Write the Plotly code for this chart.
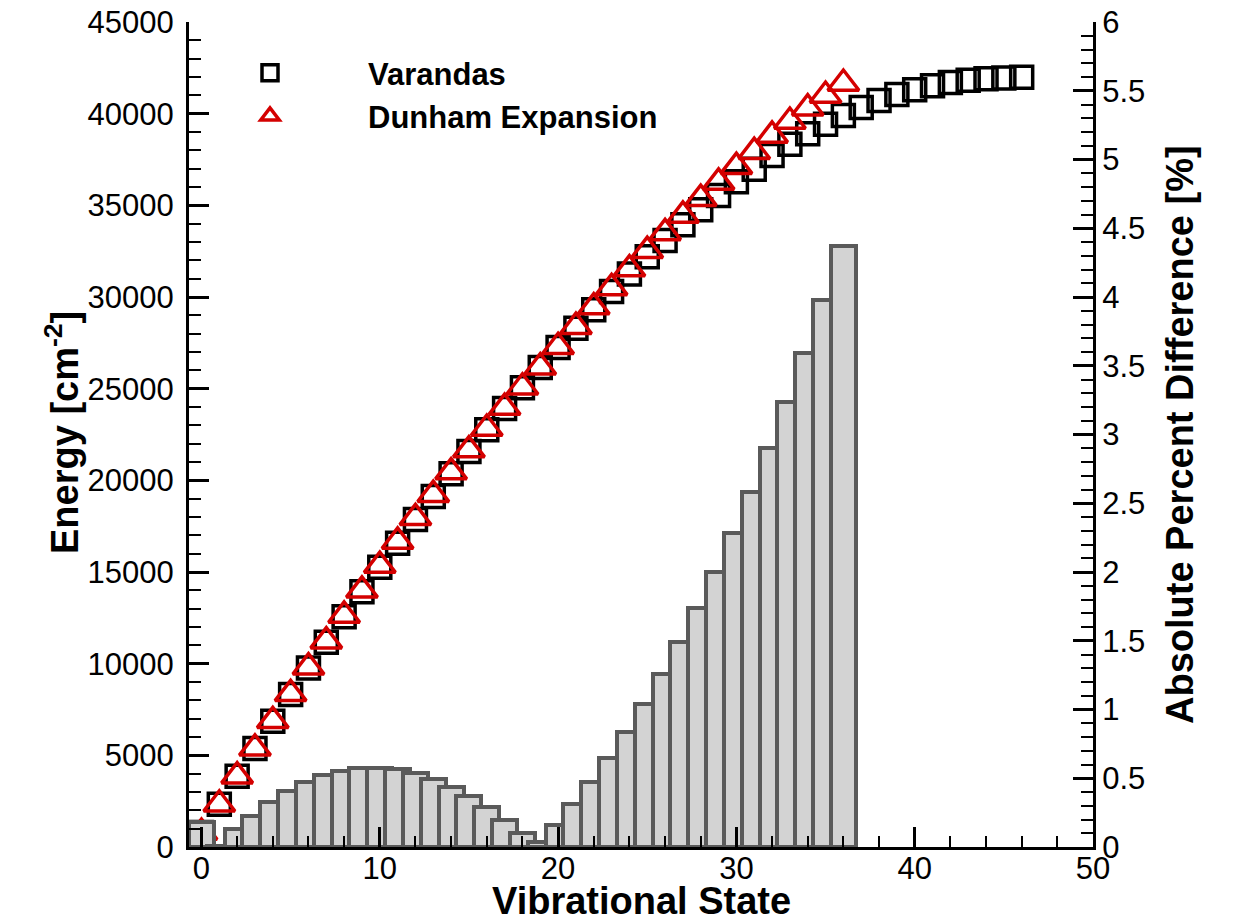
import plotly.graph_objects as go

# ---------------- data ----------------
states_varandas = list(range(47))
energy_varandas = [
    790, 2330, 3860, 5370, 6860, 8320, 9760, 11170, 12560, 13920,
    15260, 16570, 17860, 19120, 20360, 21570, 22760, 23920, 25050, 26160,
    27240, 28290, 29310, 30300, 31260, 32190, 33080, 33940, 34760, 35540,
    36280, 36970, 37720, 38330, 38900, 39420, 39900, 40330, 40720, 41050,
    41300, 41520, 41700, 41820, 41900, 41950, 41990,
]

states_dunham = list(range(37))
energy_dunham = [
    791, 2330, 3865, 5382, 6883, 8354, 9806, 11229, 12629, 14000,
    15348, 16664, 17956, 19214, 20449, 21650, 22827, 23967, 25075, 26170,
    27284, 28378, 29449, 30497, 31521, 32525, 33495, 34447, 35363, 36251,
    37109, 37924, 38814, 39570, 40297, 40989, 41644,
]

percent_difference = [
    0.18, 0.005, 0.128, 0.225, 0.33, 0.41, 0.475, 0.524, 0.553, 0.572,
    0.577, 0.565, 0.536, 0.492, 0.439, 0.371, 0.293, 0.196, 0.10, 0.04,
    0.16, 0.31, 0.475, 0.65, 0.834, 1.04, 1.256, 1.493, 1.736, 2.0,
    2.284, 2.58, 2.90, 3.236, 3.59, 3.98, 4.37,
]

x_title = "Vibrational State"
y_title = "Energy [cm<sup>-2</sup>]"
y2_title = "Absolute Percent Difference [%]"

# ---------------- figure ----------------
FONT = "Liberation Sans, Arial, Helvetica, sans-serif"
W, H = 1233, 924
ML, MR, MT, MB = 189, 140, 22, 77
PW, PH = W - ML - MR, H - MT - MB

fig = go.Figure()

fig.add_trace(go.Scatter(
    x=states_varandas, y=energy_varandas, mode="markers", name="Varandas",
    marker=dict(symbol="square-open", size=22, color="black",
                line=dict(width=3.5, color="black")),
))
fig.add_trace(go.Scatter(
    x=states_dunham, y=energy_dunham, mode="markers", name="Dunham Expansion",
    marker=dict(symbol="triangle-up-open", size=27, color="#d40000",
                line=dict(width=3.5, color="#d40000")),
))
fig.add_trace(go.Bar(
    x=states_dunham, y=percent_difference, yaxis="y2", width=1.4,
    marker=dict(color="#d3d3d3", line=dict(color="#5a5a5a", width=4)),
    showlegend=False, name="Absolute Percent Difference",
))

common_axis = dict(
    ticks="inside", ticklen=20, tickwidth=3, tickcolor="black",
    showline=True, linewidth=3, linecolor="black",
    showgrid=False, zeroline=False,
    tickfont=dict(family=FONT, size=31, color="black"),
)

fig.update_layout(
    width=W, height=H,
    margin=dict(l=ML, r=MR, t=MT, b=MB, autoexpand=False),
    plot_bgcolor="white", paper_bgcolor="white",
    font=dict(family=FONT, size=31, color="black"),
    bargap=0,
    xaxis=dict(
        range=[-0.7, 50], tickmode="linear", tick0=0, dtick=10,
        minor=dict(ticks="inside", dtick=2, ticklen=11, tickwidth=1.5,
                   tickcolor="black", showgrid=False),
        ticklabelstandoff=-8,
        **common_axis,
    ),
    yaxis=dict(
        range=[0, 45000], tickmode="linear", tick0=0, dtick=5000, tickformat="d",
        minor=dict(ticks="inside", dtick=1000, ticklen=12, tickwidth=1.5,
                   tickcolor="black", showgrid=False),
        ticklabelstandoff=6,
        **common_axis,
    ),
    yaxis2=dict(
        overlaying="y", side="right",
        range=[0, 6], tickmode="linear", tick0=0, dtick=0.5,
        minor=dict(ticks="inside", dtick=0.1, ticklen=12, tickwidth=1.5,
                   tickcolor="black", showgrid=False),
        **common_axis,
    ),
    legend=dict(
        xref="container", yref="container",
        x=172 / W, y=1 - 46 / H, xanchor="left", yanchor="top",
        bgcolor="rgba(0,0,0,0)", borderwidth=0,
        itemwidth=186,
        font=dict(family=FONT, size=31, color="black", weight="bold"),
        tracegroupgap=0,
    ),
)

title_font = dict(family=FONT, size=38, color="black", weight="bold")
fig.add_annotation(text=x_title, xref="paper", yref="paper",
                   x=(641 - ML) / PW, y=(MT + PH - 901) / PH,
                   xanchor="center", yanchor="middle", showarrow=False,
                   font=title_font)
fig.add_annotation(text=y_title, xref="paper", yref="paper",
                   x=(62 - ML) / PW, y=(MT + PH - 433) / PH, textangle=-90,
                   xanchor="center", yanchor="middle", showarrow=False,
                   font=title_font)
fig.add_annotation(text=y2_title, xref="paper", yref="paper",
                   x=(1180 - ML) / PW, y=(MT + PH - 435) / PH, textangle=-90,
                   xanchor="center", yanchor="middle", showarrow=False,
                   font=title_font)

fig.write_html("out.html")
